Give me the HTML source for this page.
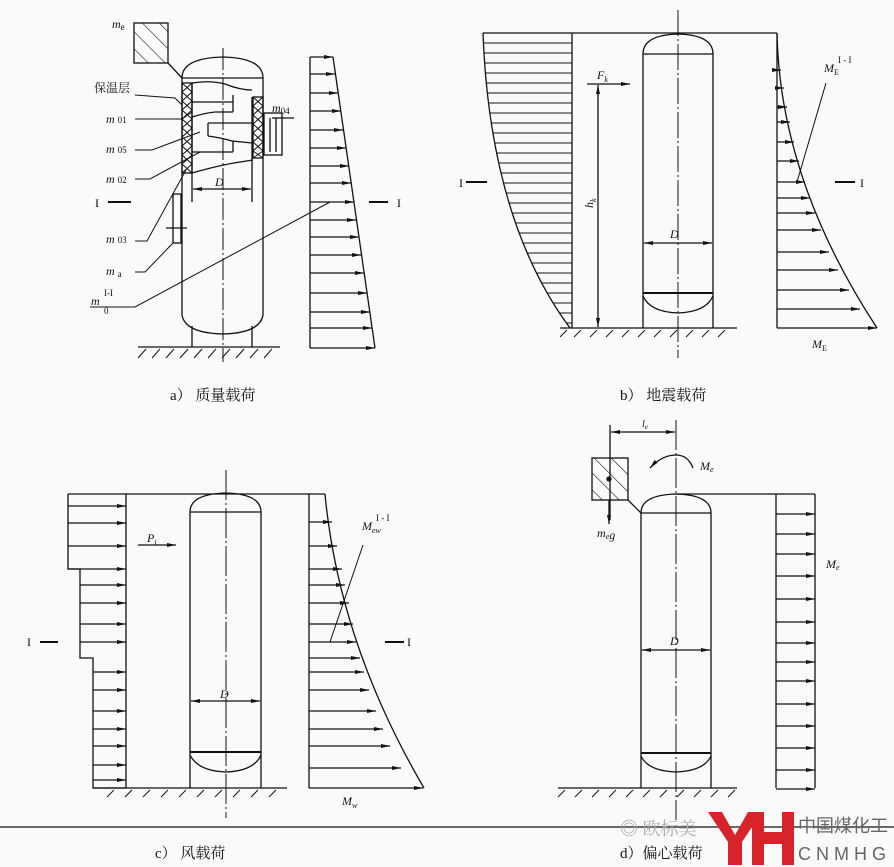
<!DOCTYPE html>
<html><head><meta charset="utf-8"><style>
html,body{margin:0;padding:0;background:#fafafa;}
svg{display:block;}
text{font-family:"Liberation Serif","Noto Serif CJK SC",serif;fill:#111;}
.cj{font-family:"Liberation Serif","Noto Serif CJK SC",serif;}
</style></head><body>
<svg width="894" height="867" viewBox="0 0 894 867" xmlns="http://www.w3.org/2000/svg">
<defs>
<marker id="ar" markerWidth="10" markerHeight="6" refX="9" refY="3" orient="auto" markerUnits="userSpaceOnUse"><path d="M0,1 L9,3 L0,5 z" fill="#111"/></marker>
<marker id="al" markerWidth="10" markerHeight="6" refX="1" refY="3" orient="auto" markerUnits="userSpaceOnUse"><path d="M10,1 L1,3 L10,5 z" fill="#111"/></marker>
<clipPath id="cb"><path d="M483,33 Q490,220 570,328 L572,328 L572,33 z"/></clipPath>
<pattern id="hat" width="12" height="12" patternUnits="userSpaceOnUse" patternTransform="rotate(-45)"><line x1="0" y1="0" x2="0" y2="12" stroke="#111" stroke-width="1.2"/></pattern>
</defs>
<g stroke="#111" stroke-width="1.3" fill="none">
<!-- ===== Panel a ===== -->
<rect x="134" y="23" width="34" height="40" fill="url(#hat)"/>
<line x1="168" y1="63" x2="182" y2="78"/>
<path d="M182,78 Q182,58 223,57 Q263,58 263,78"/>
<line x1="182" y1="78" x2="263" y2="78"/>
<line x1="182" y1="78" x2="182" y2="315"/>
<line x1="263" y1="78" x2="263" y2="315"/>
<path d="M182,315 Q185,333 223,334 Q260,333 263,315"/>
<line x1="192" y1="326" x2="192" y2="347"/><line x1="252" y1="326" x2="252" y2="347"/>
<line x1="138" y1="347" x2="280" y2="347"/>
<g stroke-width="1"><line x1="138" y1="358" x2="146" y2="349"/><line x1="152" y1="358" x2="160" y2="349"/><line x1="166" y1="358" x2="174" y2="349"/><line x1="180" y1="358" x2="188" y2="349"/><line x1="194" y1="358" x2="202" y2="349"/><line x1="208" y1="358" x2="216" y2="349"/><line x1="222" y1="358" x2="230" y2="349"/><line x1="236" y1="358" x2="244" y2="349"/><line x1="250" y1="358" x2="258" y2="349"/><line x1="264" y1="358" x2="272" y2="349"/></g>
<line x1="223" y1="48" x2="223" y2="362" stroke-dasharray="22,3,2,3" stroke-width="1"/>
<!-- insulation -->
<rect x="182" y="83" width="10" height="90"/>
<path d="M182,83 L192,92 L182,101 L192,110 L182,119 L192,128 L182,137 L192,146 L182,155 L192,164 L182,173 M192,83 L182,92 L192,101 L182,110 L192,119 L182,128 L192,137 L182,146 L192,155 L182,164 L192,173" stroke-width="1"/>
<rect x="253" y="97" width="10" height="61"/>
<path d="M253,97 L263,106 L253,115 L263,124 L253,133 L263,142 L253,151 L263,158 M263,97 L253,106 L263,115 L253,124 L263,133 L253,142 L263,151 L253,158" stroke-width="1"/>
<line x1="192" y1="83" x2="192" y2="202"/><line x1="252" y1="97" x2="252" y2="202"/>
<path d="M192,83 Q210,80 225,84 Q240,90 252,90"/>
<path d="M192,173 Q220,165 240,162 L253,160"/>
<line x1="192" y1="102" x2="233" y2="102"/><line x1="233" y1="95" x2="233" y2="112"/>
<path d="M192,117 Q205,113 215,112 L233,112"/>
<line x1="208" y1="123" x2="252" y2="123"/><line x1="208" y1="123" x2="208" y2="136"/>
<path d="M208,136 Q222,138 232,141 L252,143"/>
<line x1="233" y1="141" x2="233" y2="152"/>
<line x1="192" y1="152" x2="233" y2="152"/>
<rect x="264" y="113" width="18" height="42"/>
<line x1="270" y1="118" x2="270" y2="152"/><line x1="276" y1="118" x2="276" y2="152"/>
<line x1="272" y1="118" x2="294" y2="118"/>
<line x1="193" y1="189" x2="251" y2="189" marker-start="url(#al)" marker-end="url(#ar)"/>
<line x1="108" y1="202" x2="131" y2="202" stroke-width="2"/>
<line x1="369" y1="202" x2="388" y2="202" stroke-width="2"/>
<rect x="173" y="194" width="8" height="49"/>
<line x1="166" y1="228" x2="187" y2="228"/>
<!-- leaders -->
<polyline points="135,95 175,98 182,105" stroke-width="1"/>
<polyline points="135,119 182,119 192,112" stroke-width="1"/>
<polyline points="135,150 152,150 200,132" stroke-width="1"/>
<polyline points="135,179 150,179 200,152" stroke-width="1"/>
<polyline points="135,241 147,241 186,170" stroke-width="1"/>
<polyline points="135,272 145,272 173,243" stroke-width="1"/>
<polyline points="90,307 135,307 330,202" stroke-width="1"/>
<!-- a load -->
<line x1="310" y1="57" x2="310" y2="348"/>
<line x1="333" y1="57" x2="375" y2="348"/>
<line x1="310" y1="57" x2="333" y2="57" marker-end="url(#ar)"/>
<line x1="310" y1="74" x2="335" y2="74" marker-end="url(#ar)"/>
<line x1="310" y1="93" x2="338" y2="93" marker-end="url(#ar)"/>
<line x1="310" y1="111" x2="341" y2="111" marker-end="url(#ar)"/>
<line x1="310" y1="130" x2="343" y2="130" marker-end="url(#ar)"/>
<line x1="310" y1="148" x2="346" y2="148" marker-end="url(#ar)"/>
<line x1="310" y1="166" x2="349" y2="166" marker-end="url(#ar)"/>
<line x1="310" y1="183" x2="351" y2="183" marker-end="url(#ar)"/>
<line x1="310" y1="202" x2="354" y2="202" marker-end="url(#ar)"/>
<line x1="310" y1="220" x2="356" y2="220" marker-end="url(#ar)"/>
<line x1="310" y1="237" x2="359" y2="237" marker-end="url(#ar)"/>
<line x1="310" y1="255" x2="361" y2="255" marker-end="url(#ar)"/>
<line x1="310" y1="273" x2="364" y2="273" marker-end="url(#ar)"/>
<line x1="310" y1="293" x2="367" y2="293" marker-end="url(#ar)"/>
<line x1="310" y1="312" x2="370" y2="312" marker-end="url(#ar)"/>
<line x1="310" y1="328" x2="372" y2="328" marker-end="url(#ar)"/>
<line x1="310" y1="348" x2="375" y2="348" marker-end="url(#ar)"/>

<!-- ===== Panel b ===== -->
<line x1="483" y1="33" x2="777" y2="33"/>
<path d="M483,33 Q490,220 570,328"/>
<line x1="572" y1="33" x2="572" y2="328"/>
<g clip-path="url(#cb)" stroke-width="1">
<line x1="470" y1="43" x2="572" y2="43"/><line x1="470" y1="53" x2="572" y2="53"/><line x1="470" y1="63" x2="572" y2="63"/><line x1="470" y1="73" x2="572" y2="73"/><line x1="470" y1="83" x2="572" y2="83"/><line x1="470" y1="93" x2="572" y2="93"/><line x1="470" y1="103" x2="572" y2="103"/><line x1="470" y1="113" x2="572" y2="113"/><line x1="470" y1="123" x2="572" y2="123"/><line x1="470" y1="133" x2="572" y2="133"/><line x1="470" y1="143" x2="572" y2="143"/><line x1="470" y1="153" x2="572" y2="153"/><line x1="470" y1="163" x2="572" y2="163"/><line x1="470" y1="173" x2="572" y2="173"/><line x1="470" y1="183" x2="572" y2="183"/><line x1="470" y1="193" x2="572" y2="193"/><line x1="470" y1="203" x2="572" y2="203"/><line x1="470" y1="213" x2="572" y2="213"/><line x1="470" y1="223" x2="572" y2="223"/><line x1="470" y1="233" x2="572" y2="233"/><line x1="470" y1="243" x2="572" y2="243"/><line x1="470" y1="253" x2="572" y2="253"/><line x1="470" y1="263" x2="572" y2="263"/><line x1="470" y1="273" x2="572" y2="273"/><line x1="470" y1="283" x2="572" y2="283"/><line x1="470" y1="293" x2="572" y2="293"/><line x1="470" y1="303" x2="572" y2="303"/><line x1="470" y1="313" x2="572" y2="313"/><line x1="470" y1="323" x2="572" y2="323"/>
</g>
<path d="M643,54 Q643,35 678,34 Q713,35 713,54"/>
<line x1="643" y1="54" x2="713" y2="54"/>
<line x1="643" y1="54" x2="643" y2="328"/><line x1="713" y1="54" x2="713" y2="328"/>
<line x1="643" y1="293" x2="713" y2="293" stroke-width="2"/>
<path d="M643,296 Q650,312 678,313 Q706,312 713,296"/>
<line x1="560" y1="328" x2="737" y2="328"/>
<g stroke-width="1"><line x1="560" y1="337" x2="567" y2="330"/><line x1="574" y1="337" x2="581" y2="330"/><line x1="590" y1="337" x2="597" y2="330"/><line x1="606" y1="337" x2="613" y2="330"/><line x1="622" y1="337" x2="629" y2="330"/><line x1="638" y1="337" x2="645" y2="330"/><line x1="654" y1="337" x2="661" y2="330"/><line x1="670" y1="337" x2="677" y2="330"/><line x1="686" y1="337" x2="693" y2="330"/><line x1="702" y1="337" x2="709" y2="330"/><line x1="718" y1="337" x2="725" y2="330"/></g>
<line x1="678" y1="10" x2="678" y2="358" stroke-dasharray="26,3,2,3" stroke-width="1"/>
<line x1="587" y1="84" x2="630" y2="84" marker-end="url(#ar)"/>
<line x1="598" y1="85" x2="598" y2="327" marker-start="url(#al)" marker-end="url(#ar)"/>
<line x1="644" y1="243" x2="712" y2="243" marker-start="url(#al)" marker-end="url(#ar)"/>
<line x1="466" y1="182" x2="487" y2="182" stroke-width="2"/>
<line x1="835" y1="182" x2="855" y2="182" stroke-width="2"/>
<line x1="777" y1="33" x2="777" y2="328"/>
<path d="M777,33 Q780,180 877,328"/>
<line x1="797" y1="182" x2="826" y2="83" stroke-width="1"/>
<line x1="777" y1="70" x2="781" y2="70" marker-end="url(#ar)"/>
<line x1="777" y1="88" x2="784" y2="88" marker-end="url(#ar)"/>
<line x1="777" y1="107" x2="787" y2="107" marker-end="url(#ar)"/>
<line x1="777" y1="122" x2="790" y2="122" marker-end="url(#ar)"/>
<line x1="777" y1="142" x2="794" y2="142" marker-end="url(#ar)"/>
<line x1="777" y1="161" x2="799" y2="161" marker-end="url(#ar)"/>
<line x1="777" y1="182" x2="805" y2="182" marker-end="url(#ar)"/>
<line x1="777" y1="198" x2="810" y2="198" marker-end="url(#ar)"/>
<line x1="777" y1="213" x2="815" y2="213" marker-end="url(#ar)"/>
<line x1="777" y1="230" x2="821" y2="230" marker-end="url(#ar)"/>
<line x1="777" y1="252" x2="829" y2="252" marker-end="url(#ar)"/>
<line x1="777" y1="270" x2="838" y2="270" marker-end="url(#ar)"/>
<line x1="777" y1="290" x2="849" y2="290" marker-end="url(#ar)"/>
<line x1="777" y1="309" x2="860" y2="309" marker-end="url(#ar)"/>
<line x1="777" y1="328" x2="877" y2="328" marker-end="url(#ar)"/>

<!-- ===== Panel c ===== -->
<line x1="68" y1="494" x2="325" y2="494"/>
<polyline points="68,494 68,569 80,569 80,658 93,658 93,788 126,788 126,494"/>
<path d="M190,512 Q190,494 226,493 Q261,494 261,512"/>
<line x1="190" y1="512" x2="261" y2="512"/>
<line x1="190" y1="512" x2="190" y2="788"/><line x1="261" y1="512" x2="261" y2="788"/>
<line x1="190" y1="752" x2="261" y2="752" stroke-width="2"/>
<path d="M190,755 Q198,771 226,772 Q254,771 261,755"/>
<line x1="93" y1="788" x2="287" y2="788"/>
<g stroke-width="1"><line x1="107" y1="797" x2="114" y2="790"/><line x1="125" y1="797" x2="132" y2="790"/><line x1="143" y1="797" x2="150" y2="790"/><line x1="161" y1="797" x2="168" y2="790"/><line x1="179" y1="797" x2="186" y2="790"/><line x1="197" y1="797" x2="204" y2="790"/><line x1="215" y1="797" x2="222" y2="790"/><line x1="233" y1="797" x2="240" y2="790"/><line x1="251" y1="797" x2="258" y2="790"/><line x1="269" y1="797" x2="276" y2="790"/></g>
<line x1="226" y1="470" x2="226" y2="818" stroke-dasharray="30,3,2,3" stroke-width="1"/>
<line x1="138" y1="545" x2="176" y2="545" marker-end="url(#ar)"/>
<line x1="191" y1="701" x2="260" y2="701" marker-start="url(#al)" marker-end="url(#ar)"/>
<line x1="40" y1="642" x2="58" y2="642" stroke-width="2"/>
<line x1="385" y1="642" x2="404" y2="642" stroke-width="2"/>
<line x1="68" y1="506" x2="126" y2="506" marker-end="url(#ar)"/>
<line x1="68" y1="523" x2="126" y2="523" marker-end="url(#ar)"/>
<line x1="68" y1="546" x2="126" y2="546" marker-end="url(#ar)"/>
<line x1="68" y1="569" x2="126" y2="569" marker-end="url(#ar)"/>
<line x1="80" y1="585" x2="126" y2="585" marker-end="url(#ar)"/>
<line x1="80" y1="603" x2="126" y2="603" marker-end="url(#ar)"/>
<line x1="80" y1="624" x2="126" y2="624" marker-end="url(#ar)"/>
<line x1="80" y1="642" x2="126" y2="642" marker-end="url(#ar)"/>
<line x1="93" y1="672" x2="126" y2="672" marker-end="url(#ar)"/>
<line x1="93" y1="690" x2="126" y2="690" marker-end="url(#ar)"/>
<line x1="93" y1="711" x2="126" y2="711" marker-end="url(#ar)"/>
<line x1="93" y1="729" x2="126" y2="729" marker-end="url(#ar)"/>
<line x1="93" y1="746" x2="126" y2="746" marker-end="url(#ar)"/>
<line x1="93" y1="765" x2="126" y2="765" marker-end="url(#ar)"/>
<line x1="93" y1="780" x2="126" y2="780" marker-end="url(#ar)"/>
<line x1="309" y1="494" x2="309" y2="788"/>
<path d="M325,494 Q339,643 424,788"/>
<line x1="330" y1="642" x2="363" y2="545" stroke-width="1"/>
<line x1="309" y1="522" x2="332" y2="522" marker-end="url(#ar)"/>
<line x1="309" y1="546" x2="337" y2="546" marker-end="url(#ar)"/>
<line x1="309" y1="569" x2="342" y2="569" marker-end="url(#ar)"/>
<line x1="309" y1="585" x2="345" y2="585" marker-end="url(#ar)"/>
<line x1="309" y1="603" x2="349" y2="603" marker-end="url(#ar)"/>
<line x1="309" y1="624" x2="353" y2="624" marker-end="url(#ar)"/>
<line x1="309" y1="642" x2="356" y2="642" marker-end="url(#ar)"/>
<line x1="309" y1="658" x2="360" y2="658" marker-end="url(#ar)"/>
<line x1="309" y1="672" x2="364" y2="672" marker-end="url(#ar)"/>
<line x1="309" y1="690" x2="369" y2="690" marker-end="url(#ar)"/>
<line x1="309" y1="711" x2="376" y2="711" marker-end="url(#ar)"/>
<line x1="309" y1="729" x2="383" y2="729" marker-end="url(#ar)"/>
<line x1="309" y1="746" x2="390" y2="746" marker-end="url(#ar)"/>
<line x1="309" y1="768" x2="401" y2="768" marker-end="url(#ar)"/>
<line x1="309" y1="788" x2="423" y2="788" marker-end="url(#ar)"/>
<line x1="0" y1="827" x2="894" y2="827"/>

<!-- ===== Panel d ===== -->
<line x1="610" y1="425" x2="610" y2="520"/>
<line x1="611" y1="432" x2="675" y2="432" marker-start="url(#al)" marker-end="url(#ar)"/>
<rect x="592" y="458" width="36" height="42" fill="url(#hat)"/>
<circle cx="609" cy="479" r="2" fill="#111"/>
<line x1="609" y1="500" x2="609" y2="524" marker-end="url(#ar)"/>
<line x1="628" y1="500" x2="641" y2="513"/>
<path d="M693,468 Q688,455 676,455 Q662,455 650,468" marker-end="url(#ar)"/>
<path d="M641,513 Q641,495 676,494 Q711,495 711,513"/>
<line x1="641" y1="513" x2="711" y2="513"/>
<line x1="641" y1="513" x2="641" y2="788"/><line x1="711" y1="513" x2="711" y2="788"/>
<line x1="641" y1="753" x2="711" y2="753" stroke-width="2"/>
<path d="M641,756 Q648,771 676,772 Q704,771 711,756"/>
<line x1="558" y1="788" x2="737" y2="788"/>
<g stroke-width="1"><line x1="558" y1="797" x2="565" y2="790"/><line x1="575" y1="797" x2="582" y2="790"/><line x1="592" y1="797" x2="599" y2="790"/><line x1="609" y1="797" x2="616" y2="790"/><line x1="626" y1="797" x2="633" y2="790"/><line x1="643" y1="797" x2="650" y2="790"/><line x1="660" y1="797" x2="667" y2="790"/><line x1="677" y1="797" x2="684" y2="790"/><line x1="694" y1="797" x2="701" y2="790"/><line x1="711" y1="797" x2="718" y2="790"/><line x1="728" y1="797" x2="735" y2="790"/></g>
<line x1="676" y1="420" x2="676" y2="820" stroke-dasharray="30,3,2,3" stroke-width="1"/>
<line x1="642" y1="650" x2="710" y2="650" marker-start="url(#al)" marker-end="url(#ar)"/>
<line x1="676" y1="494" x2="815" y2="494"/>
<line x1="776" y1="494" x2="776" y2="788"/>
<line x1="815" y1="494" x2="815" y2="788"/>
<line x1="776" y1="514" x2="815" y2="514" marker-end="url(#ar)"/>
<line x1="776" y1="534" x2="815" y2="534" marker-end="url(#ar)"/>
<line x1="776" y1="554" x2="815" y2="554" marker-end="url(#ar)"/>
<line x1="776" y1="576" x2="815" y2="576" marker-end="url(#ar)"/>
<line x1="776" y1="599" x2="815" y2="599" marker-end="url(#ar)"/>
<line x1="776" y1="622" x2="815" y2="622" marker-end="url(#ar)"/>
<line x1="776" y1="643" x2="815" y2="643" marker-end="url(#ar)"/>
<line x1="776" y1="662" x2="815" y2="662" marker-end="url(#ar)"/>
<line x1="776" y1="681" x2="815" y2="681" marker-end="url(#ar)"/>
<line x1="776" y1="704" x2="815" y2="704" marker-end="url(#ar)"/>
<line x1="776" y1="726" x2="815" y2="726" marker-end="url(#ar)"/>
<line x1="776" y1="748" x2="815" y2="748" marker-end="url(#ar)"/>
<line x1="776" y1="770" x2="815" y2="770" marker-end="url(#ar)"/>
<line x1="776" y1="789" x2="815" y2="789" marker-end="url(#ar)"/>
</g>

<!-- text -->
<g font-size="12" font-style="italic">
<text x="112" y="28">m<tspan font-size="9" font-style="normal" dy="2">e</tspan></text>
<text x="106" y="123">m<tspan font-size="9" font-style="normal" dx="3">01</tspan></text>
<text x="106" y="153">m<tspan font-size="9" font-style="normal" dx="3">05</tspan></text>
<text x="106" y="183">m<tspan font-size="9" font-style="normal" dx="3">02</tspan></text>
<text x="106" y="243">m<tspan font-size="9" font-style="normal" dx="3">03</tspan></text>
<text x="106" y="275">m<tspan font-size="9" font-style="normal" dx="3" dy="2">a</tspan></text>
<text x="91" y="305">m</text><text x="104" y="296" font-size="9" font-style="normal">I-I</text><text x="104" y="314" font-size="9" font-style="normal">0</text>
<text x="272" y="112">m<tspan font-size="9" font-style="normal" dy="2">04</tspan></text>
<text x="215" y="186">D</text>
<text x="597" y="79">F<tspan font-size="8" dy="3">k</tspan></text>
<text x="0" y="0" transform="translate(593,208) rotate(-90)">h<tspan font-size="8" dy="3">k</tspan></text>
<text x="670" y="238">D</text>
<text x="824" y="72">M<tspan font-size="8" font-style="normal" dy="3">E</tspan></text>
<text x="838" y="63" font-size="9" font-style="normal">I - I</text>
<text x="812" y="348">M<tspan font-size="8" font-style="normal" dy="3">E</tspan></text>
<text x="147" y="542">P<tspan font-size="8" dy="3">i</tspan></text>
<text x="220" y="698">D</text>
<text x="362" y="530">M<tspan font-size="8" dy="3">ew</tspan></text>
<text x="376" y="521" font-size="9" font-style="normal">I - I</text>
<text x="342" y="805">M<tspan font-size="8" dy="3">w</tspan></text>
<text x="642" y="427" font-size="10">l<tspan font-size="7" dy="2">e</tspan></text>
<text x="700" y="470">M<tspan font-size="8" dy="2">e</tspan></text>
<text x="597" y="537">m<tspan font-size="8" dy="2">e</tspan>g</text>
<text x="826" y="568">M<tspan font-size="8" dy="2">e</tspan></text>
<text x="670" y="645">D</text>
</g>
<g font-size="12">
<text x="95" y="207">I</text><text x="397" y="207">I</text>
<text x="459" y="187">I</text><text x="860" y="187">I</text>
<text x="27" y="646">I</text><text x="407" y="646">I</text>
<text x="94" y="92" class="cj">保温层</text>
</g>
<g font-size="15" class="cj">
<text x="170" y="400">a）  质量载荷</text>
<text x="620" y="400">b）  地震载荷</text>
<text x="155" y="858">c）  风载荷</text>
<text x="620" y="858">d）偏心载荷</text>
</g>
<g>
<text x="620" y="835" font-size="18" fill="#999" class="cj" style="fill:#aaa">◎ 欧标美</text>
<path d="M708,812 L722,812 L735,835 L748,812 L762,812 L742,842 L742,865 L728,865 L728,842 Z" fill="#d9232a"/>
<path d="M752,812 L764,812 L764,832 L782,832 L782,812 L794,812 L794,865 L782,865 L782,844 L764,844 L764,865 L752,865 Z" fill="#d9232a"/>
<text x="798" y="832" font-size="18" style="fill:#666;font-family:'Noto Sans CJK SC',sans-serif">中国煤化工</text>
<text x="798" y="860" font-size="18" style="fill:#666;font-family:'Liberation Sans',sans-serif;letter-spacing:5px">CNMHG</text>
</g>
</svg>
</body></html>
